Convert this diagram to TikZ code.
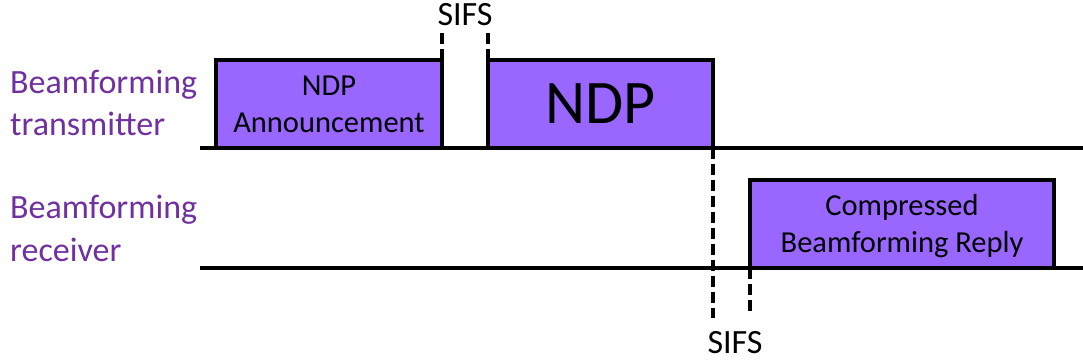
\documentclass[tikz,border=0pt]{standalone}
\usepackage{fontspec}
\setmainfont{Carlito}
\definecolor{framefill}{HTML}{9966FF}
\definecolor{labelpurple}{HTML}{7030A0}
\begin{document}
\begin{tikzpicture}[x=1pt,y=-1pt,
  frame/.style={draw=black, fill=framefill, line width=4pt, inner sep=0pt,
                outer sep=0pt, align=center},
  framesmall/.style={frame, font=\fontsize{30.5}{37}\selectfont},
  timeline/.style={line width=3.5pt},
  ifsline/.style={line width=3.5pt, dash pattern=on 11pt off 5pt},
  rolelabel/.style={anchor=base west, text=labelpurple, inner sep=0pt,
                    font=\fontsize{34}{42}\selectfont},
  gaplabel/.style={inner sep=0pt, font=\fontsize{34}{40}\selectfont}]
\useasboundingbox (0,0) rectangle (1083,363);

% time axes
\coordinate (txs) at (200,148);
\coordinate (txe) at (1083,148);
\coordinate (rxs) at (200,268);
\coordinate (rxe) at (1083,268);
\draw[timeline] (txs) -- (txe);
\draw[timeline] (rxs) -- (rxe);

% frames
\node[framesmall, minimum width=226pt, minimum height=88pt] (nda) at (329,104)
  {NDP\\Announcement};
\node[frame, minimum width=225pt, minimum height=88pt,
      font=\fontsize{62}{74}\selectfont] (ndp) at (600.5,104) {NDP};
\node[framesmall, minimum width=304pt, minimum height=88pt] (cbr) at (902,224) {};
\node[inner sep=0pt, align=center, font=\fontsize{30.5}{37}\selectfont]
  (cbrtext) at (902,226) {Compressed\\Beamforming Reply};

% station names
\node[rolelabel] (tx) at (10,94)
  {\begin{tabular}[t]{@{}l@{}}Beamforming\\transmitter\end{tabular}};
\node[rolelabel] (rx) at (10,219)
  {\begin{tabular}[t]{@{}l@{}}Beamforming\\receiver\end{tabular}};

% interframe spaces
\coordinate (s1a) at (442,32);
\coordinate (s1b) at (488,32);
\draw[ifsline] (nda.north east) -- (s1a);
\draw[ifsline] (ndp.north west) -- (s1b);
\node[gaplabel] (sifs1) at (465,15) {SIFS};

\coordinate (s2a) at (713,318);
\coordinate (s2b) at (750,316);
\draw[ifsline] (ndp.south east) -- (s2a);
\draw[ifsline] (cbr.south west) -- (s2b);
\node[gaplabel] (sifs2) at (735,343) {SIFS};
\end{tikzpicture}
\end{document}
